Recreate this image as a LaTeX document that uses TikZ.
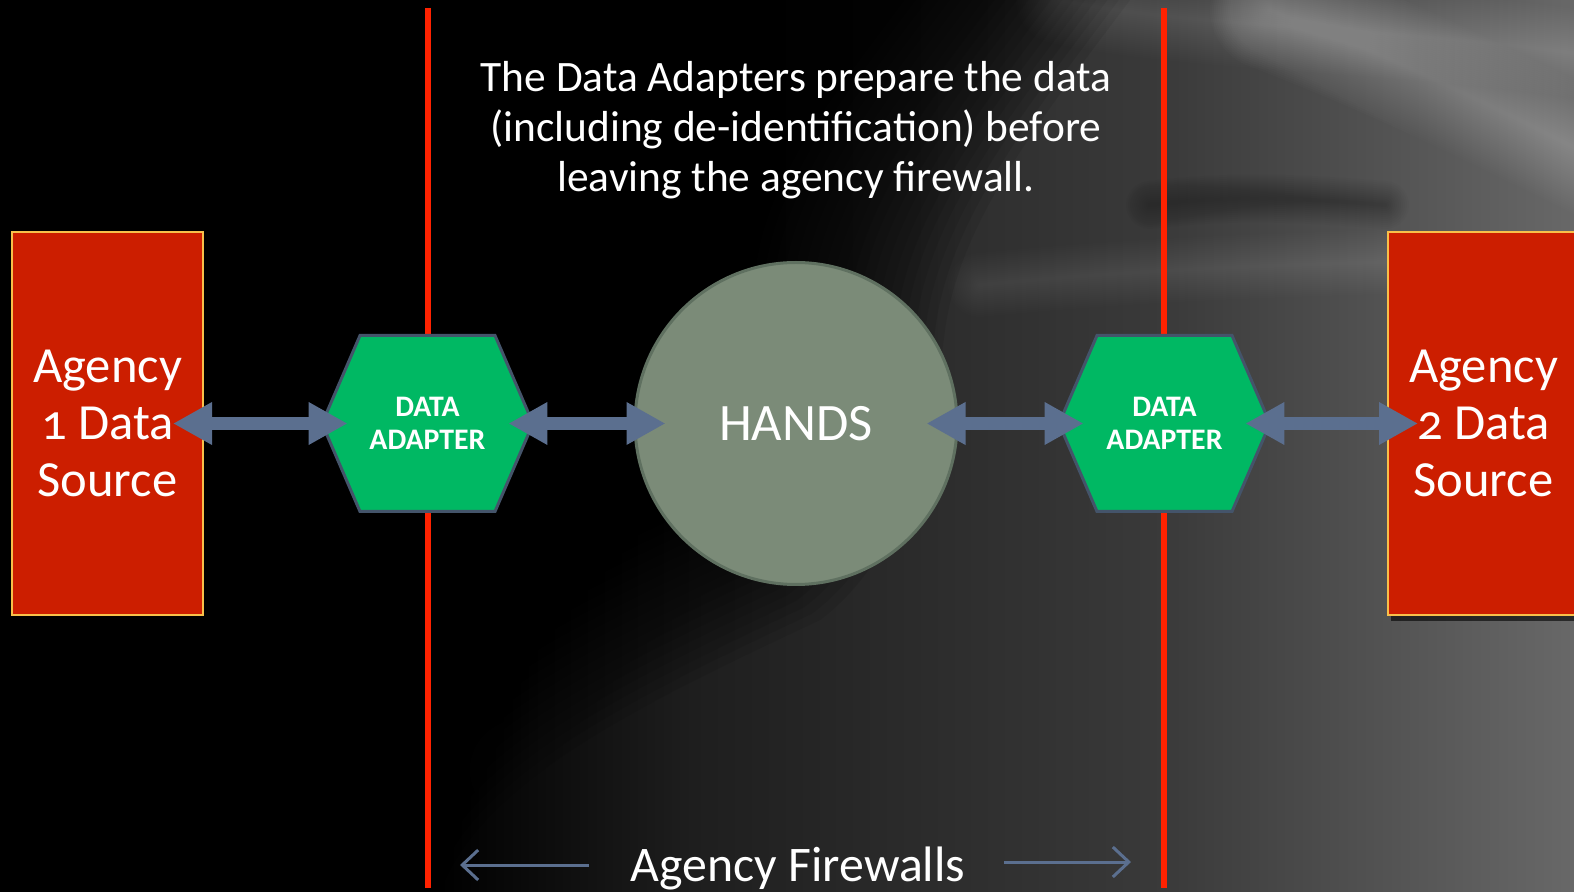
\documentclass[tikz,border=0pt]{standalone}
\usepackage{fontspec}
\setmainfont{Carlito}[Numbers=OldStyle]
\usetikzlibrary{arrows.meta,shadows}
\definecolor{fwred}{HTML}{FF2200}
\definecolor{boxred}{HTML}{CC1E00}
\definecolor{boxedge}{HTML}{F8C04A}
\definecolor{hexgreen}{HTML}{00B863}
\definecolor{hexedge}{HTML}{44546A}
\definecolor{arrowc}{HTML}{5B6F8F}
\definecolor{circfill}{HTML}{7B8B78}
\definecolor{circedge}{HTML}{5F7060}
\definecolor{bgA}{HTML}{1E1E1E}
\definecolor{bgB}{HTML}{3A3A3A}
\definecolor{bgC}{HTML}{686868}
\pgfdeclarehorizontalshading{bgshade}{100bp}{color(0bp)=(black); color(25bp)=(black); color(39bp)=(black); color(47bp)=(bgA); color(62bp)=(bgB); color(75bp)=(bgC); color(100bp)=(bgC)}
\begin{document}
\begin{tikzpicture}[x=0.5pt,y=-0.5pt,
  fwline/.style={draw=fwred, line width=3pt},
  srcbox/.style={draw=boxedge, line width=1pt, fill=boxred, minimum width=95.5pt, minimum height=191.5pt, inner sep=0pt, text=white, align=center, font=\fontsize{25.3}{28.5}\selectfont, drop shadow={fill=black, opacity=0.6, shadow xshift=1.5pt, shadow yshift=-3pt}},
  hexnode/.style={minimum width=105.5pt, minimum height=88pt, inner sep=0pt, text=white, align=center, font=\bfseries\fontsize{14.9}{16.5}\selectfont},
  hexpic/.pic={\draw[draw=hexedge, line width=1.5pt, fill=hexgreen] (-105.5,0) -- (-67.5,-88) -- (67.5,-88) -- (105.5,0) -- (67.5,88) -- (-67.5,88) -- cycle;},
  handsnode/.style={circle, draw=circedge, line width=1.5pt, fill=circfill, minimum size=161pt, inner sep=0pt, text=white, font=\fontsize{26.3}{30}\selectfont},
  fat/.style={draw=arrowc, line width=6.5pt, {Triangle[width=20pt,length=19.5pt]}-{Triangle[width=20pt,length=19.5pt]}},
  thinarr/.style={draw=arrowc, line width=1.5pt, -{Straight Barb[length=8pt,width=15pt]}},
  whitetext/.style={text=white, align=center},
  streak/.style={line cap=round}
]
\useasboundingbox (0,0) rectangle (1574,892);
% background
\shade[shading=bgshade] (0,0) rectangle (1574,892);
\foreach \s in {1.0,0.99,...,0.8}
  \fill[black, opacity=.08, scale around={\s:(0,0)}] (0,0) -- (1130,0) .. controls (1040,120) and (960,220) .. (945,330) .. controls (930,450) and (900,560) .. (820,620) .. controls (650,700) and (480,780) .. (440,892) -- (0,892) -- cycle;
\foreach \w in {2,4,...,60}
  \draw[streak, white, opacity=.012, line width=\w pt] (1270,10) .. controls (1400,60) and (1500,110) .. (1620,170);
\foreach \w in {2,4,...,44}
  \draw[streak, white, opacity=.008, line width=\w pt] (1060,0) .. controls (1200,30) and (1400,25) .. (1620,60);
\foreach \w in {2,4,...,32}
  \draw[streak, white, opacity=.008, line width=\w pt] (980,285) .. controls (1150,268) and (1300,265) .. (1385,262);
\foreach \w in {2,4,...,24}
  \draw[streak, black, opacity=.02, line width=\w pt] (1150,205) .. controls (1230,195) and (1300,198) .. (1385,205);
\foreach \w in {2,4,...,50}
  \draw[streak, white, opacity=.004, line width=\w pt] (520,770) .. controls (700,670) and (850,615) .. (1000,585);
% firewalls
\draw[fwline] (428,8) -- (428,888);
\draw[fwline] (1164,8) -- (1164,888);
% sources
\node[srcbox] (boxL) at (107.5,423.5) {Agency\\1 Data\\Source};
\node[srcbox] (boxR) at (1483.5,423.5) {Agency\\2 Data\\Source};
% adapters
\pic at (427.5,423.5) {hexpic};
\node[hexnode] (hexL) at (427.5,423.5) {DATA\\ADAPTER};
\pic at (1164.5,423.5) {hexpic};
\node[hexnode] (hexR) at (1164.5,423.5) {DATA\\ADAPTER};
% hands
\node[handsnode] (hands) at (796,423.5) {HANDS};
% connectors
\draw[fat, shorten <=-15.5pt, shorten >=-13pt] (boxL.east) -- (hexL.west);
\draw[fat, shorten <=-12.5pt, shorten >=-16pt] (hexL.east) -- (hands.west);
\draw[fat, shorten <=-16pt, shorten >=-12.5pt] (hands.east) -- (hexR.west);
\draw[fat, shorten <=-12.5pt, shorten >=-15.5pt] (hexR.east) -- (boxR.west);
% texts
\node[whitetext, anchor=base, font=\fontsize{21.7}{25}\selectfont] (note) at (796,192) {The Data Adapters prepare the data\\(including de-identification) before\\leaving the agency firewall.};
\node[whitetext, anchor=base, font=\fontsize{24.9}{28}\selectfont] (fwlabel) at (798,881) {Agency Firewalls};
\coordinate (la1) at (589,865);
\coordinate (la2) at (460,865);
\coordinate (ra1) at (1004,862);
\coordinate (ra2) at (1131,862);
\draw[thinarr] (la1) -- (la2);
\draw[thinarr] (ra1) -- (ra2);
\end{tikzpicture}
\end{document}
